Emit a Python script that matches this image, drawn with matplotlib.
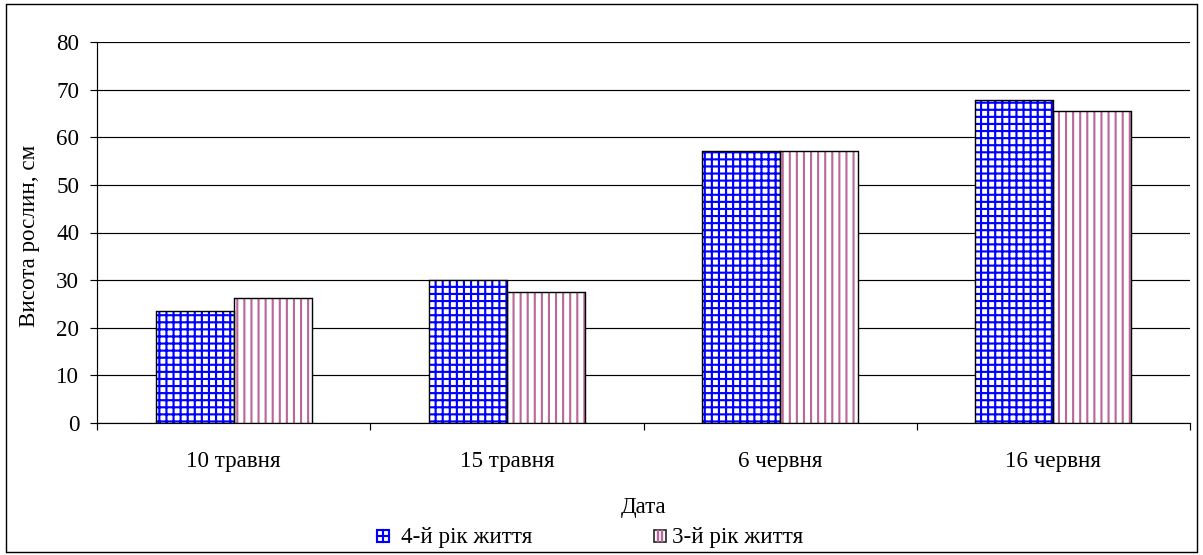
import matplotlib
matplotlib.use("Agg")
import matplotlib.pyplot as plt
from matplotlib.patches import Rectangle
from matplotlib.lines import Line2D
import numpy as np

categories = ["10 травня", "15 травня", "6 червня", "16 червня"]
series_names = ["4-й рік життя", "3-й рік життя"]
year4 = [23.5, 30.0, 57.2, 67.8]
year3 = [26.3, 27.5, 57.2, 65.6]
yticks = [0, 10, 20, 30, 40, 50, 60, 70, 80]

plt.rcParams['font.family'] = ['Liberation Serif', 'DejaVu Serif']
plt.rcParams['hatch.linewidth'] = 1.8

DPI = 85
FS = 19.5
W, H = 1203, 555
fig = plt.figure(figsize=(W / DPI, H / DPI), dpi=DPI)
ax = fig.add_axes([97 / W, 1 - 423 / H, (1190 - 97) / W, (423 - 42) / H])

x = np.arange(len(categories))
w = 0.285
blue = '#0000ff'
pink = '#b9689a'

# hatch layer
ax.bar(x - w / 2, year4, w, color='white', edgecolor=blue, hatch='++', linewidth=0, zorder=3)
ax.bar(x + w / 2, year3, w, color='white', edgecolor=pink, hatch='||', linewidth=0, zorder=3)
# outline layer
ax.bar(x - w / 2, year4, w, fill=False, edgecolor='black', linewidth=1.2, zorder=4)
ax.bar(x + w / 2, year3, w, fill=False, edgecolor='black', linewidth=1.2, zorder=4)

ax.set_xlim(-0.5, len(categories) - 0.5)
ax.set_ylim(0, 80)
ax.set_yticks(yticks)
ax.yaxis.grid(True, color='black', linewidth=1.0, zorder=0)
ax.set_axisbelow(True)

ax.set_xticks(x)
ax.set_xticklabels(categories)
ax.set_xticks(np.arange(-0.5, len(categories)), minor=True)
ax.tick_params(axis='x', which='major', length=0, pad=24, labelsize=FS)
ax.tick_params(axis='x', which='minor', length=6, width=1, direction='out')
ax.tick_params(axis='y', length=6, width=1, direction='out', labelsize=FS, pad=9)

for s in ['top', 'right']:
    ax.spines[s].set_visible(False)
for s in ['left', 'bottom']:
    ax.spines[s].set_linewidth(1.0)

ax.set_ylabel("Висота рослин, см", fontsize=FS)
ax.yaxis.set_label_coords((40 - 97) / (1190 - 97), 0.49)
fig.text(644 / W, 1 - 508 / H, "Дата", ha='center', va='center', fontsize=FS)

# legend drawn manually
def fx(px):
    return px / W

def fy(py):
    return 1 - py / H

leg_y = 536
sq = 12
# series 1 key: blue square with cross
x0, y0 = 377, leg_y - sq / 2
fig.patches.append(Rectangle((fx(x0), fy(y0 + sq)), sq / W, sq / H, transform=fig.transFigure,
                             facecolor='white', edgecolor=blue, linewidth=1.8))
fig.lines.append(Line2D([fx(x0), fx(x0 + sq)], [fy(y0 + sq / 2)] * 2, transform=fig.transFigure,
                        color=blue, linewidth=1.8))
fig.lines.append(Line2D([fx(x0 + sq / 2)] * 2, [fy(y0), fy(y0 + sq)], transform=fig.transFigure,
                        color=blue, linewidth=1.8))
fig.text(fx(x0 + sq + 12), fy(leg_y + 1), series_names[0], ha='left', va='center', fontsize=FS)

# series 2 key: dark square with pink vertical stripes
x1 = 654
fig.patches.append(Rectangle((fx(x1), fy(y0 + sq)), sq / W, sq / H, transform=fig.transFigure,
                             facecolor='white', edgecolor='#222222', linewidth=1.4))
for k in (1, 2):
    xl = x1 + sq * k / 3
    fig.lines.append(Line2D([fx(xl)] * 2, [fy(y0 + 1), fy(y0 + sq - 1)], transform=fig.transFigure,
                            color=pink, linewidth=2.0))
fig.text(fx(x1 + sq + 6), fy(leg_y + 1), series_names[1], ha='left', va='center', fontsize=FS)

fig.patches.append(Rectangle((6 / W, 3 / H), 1191 / W, 548 / H, transform=fig.transFigure,
                             fill=False, edgecolor='black', linewidth=1.2))

fig.savefig("out.png", dpi=DPI)
